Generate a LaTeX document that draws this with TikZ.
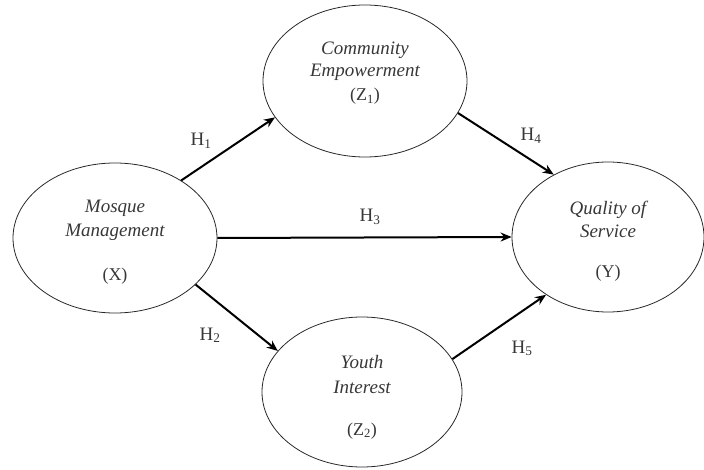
\documentclass[tikz,border=0pt]{standalone}
\usepackage{fontspec}
\setmainfont{Liberation Serif}
\usetikzlibrary{shapes.geometric,arrows.meta}
\definecolor{txt}{RGB}{55,55,55}
\definecolor{rim}{RGB}{40,40,40}
\tikzset{
  var/.style={ellipse,draw=rim,line width=0.8pt,inner sep=0pt},
  lbl/.style={font=\fontsize{19}{22}\selectfont\itshape,text=txt,anchor=base,inner sep=0pt},
  sym/.style={font=\fontsize{18}{22}\selectfont,text=txt,anchor=base,inner sep=0pt},
  hyp/.style={font=\fontsize{19}{22}\selectfont,text=txt,anchor=base,inner sep=0pt},
  path/.style={line width=2pt,-{Stealth[length=11pt,width=9pt]}}
}
\begin{document}
\begin{tikzpicture}[x=1pt,y=-1pt]
\useasboundingbox (0,0) rectangle (704,470);
% ellipses
\node[var,minimum width=204pt,minimum height=152pt] (Z1) at (365,81) {};
\node[var,minimum width=204pt,minimum height=150pt] (X) at (115,238) {};
\node[var,minimum width=192pt,minimum height=150pt] (Y) at (608,237) {};
\node[var,minimum width=200pt,minimum height=150pt] (Z2) at (362,392) {};
% texts
\node[lbl] (z1a) at (365,55) {Community};
\node[lbl] (z1b) at (365,77) {Empowerment};
\node[sym] (z1c) at (365,101) {(Z\textsubscript{1})};
\node[lbl] (xa) at (115,213) {Mosque};
\node[lbl] (xb) at (115,237) {Management};
\node[sym] (xc) at (115,280) {(X)};
\node[lbl] (ya) at (608,215) {Quality of};
\node[lbl] (yb) at (608,238) {Service};
\node[sym] (yc) at (608,278) {(Y)};
\node[lbl] (z2a) at (362,368) {Youth};
\node[lbl] (z2b) at (362,393) {Interest};
\node[sym] (z2c) at (362,435) {(Z\textsubscript{2})};
% paths
\draw[path] (X.41) -- (Z1.202);
\draw[path] (Z1.341) -- (Y.131);
\draw[path] (X.east) -- (Y.west);
\draw[path] (X.330) -- (Z2.154);
\draw[path] (Z2.20) -- (Y.223);
% hypothesis labels
\node[hyp] (h1) at (201,146) {H\textsubscript{1}};
\node[hyp] (h2) at (210,340) {H\textsubscript{2}};
\node[hyp] (h3) at (370,222) {H\textsubscript{3}};
\node[hyp] (h4) at (531,141) {H\textsubscript{4}};
\node[hyp] (h5) at (522,353) {H\textsubscript{5}};
\end{tikzpicture}
\end{document}
